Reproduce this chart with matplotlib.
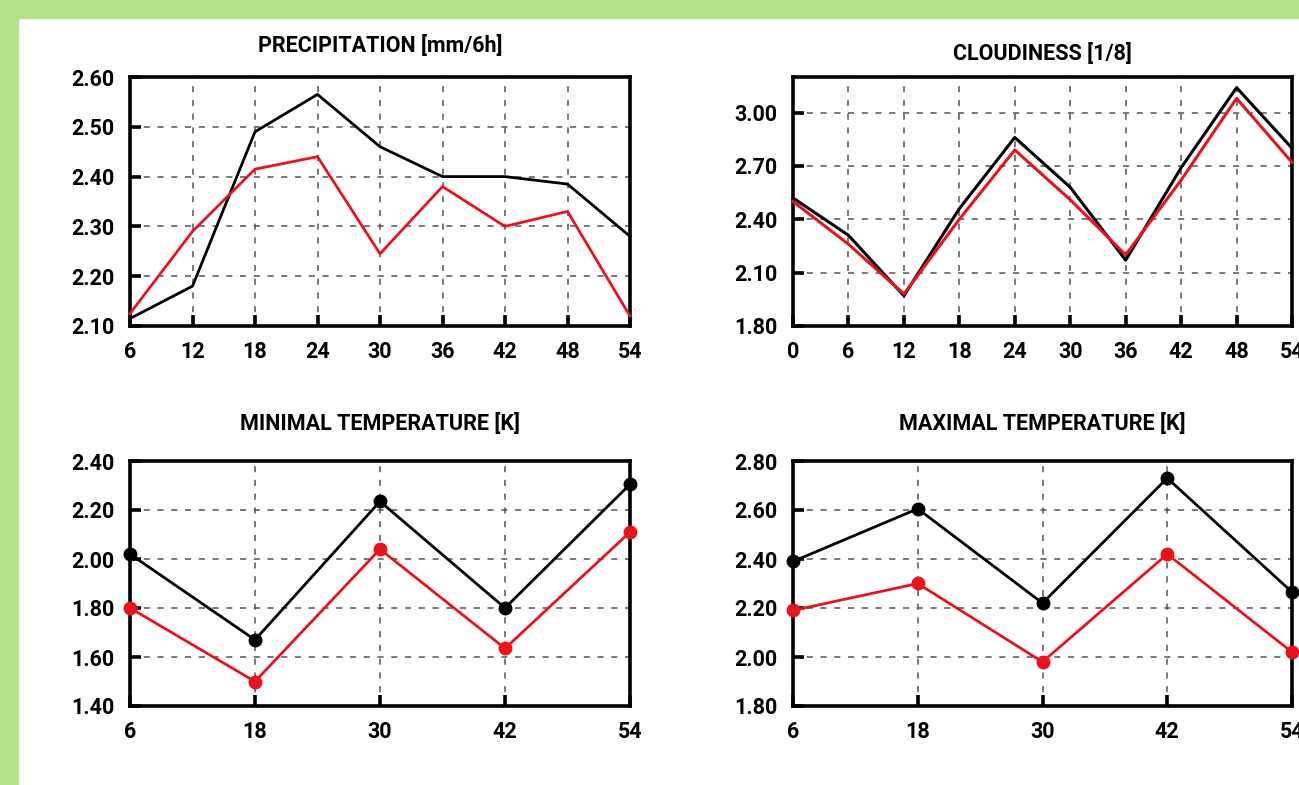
import matplotlib
matplotlib.use("Agg")
import matplotlib.pyplot as plt
from matplotlib.patches import Rectangle

plt.rcParams['font.family'] = ['Roboto', 'Liberation Sans', 'DejaVu Sans']

# ---- data ----
precip_x = [6, 12, 18, 24, 30, 36, 42, 48, 54]
precip_black = [2.115, 2.18, 2.49, 2.565, 2.46, 2.40, 2.40, 2.385, 2.28]
precip_red = [2.125, 2.29, 2.415, 2.44, 2.245, 2.38, 2.30, 2.33, 2.12]

cloud_x = [0, 6, 12, 18, 24, 30, 36, 42, 48, 54]
cloud_black = [2.52, 2.31, 1.97, 2.46, 2.86, 2.58, 2.17, 2.69, 3.14, 2.80]
cloud_red = [2.50, 2.26, 1.98, 2.40, 2.79, 2.51, 2.20, 2.62, 3.08, 2.72]

temp_x = [6, 18, 30, 42, 54]
tmin_black = [2.02, 1.67, 2.235, 1.80, 2.305]
tmin_red = [1.80, 1.50, 2.04, 1.635, 2.11]
tmax_black = [2.39, 2.605, 2.22, 2.73, 2.265]
tmax_red = [2.19, 2.30, 1.98, 2.42, 2.02]

precip_yticks = [2.10, 2.20, 2.30, 2.40, 2.50, 2.60]
cloud_yticks = [1.80, 2.10, 2.40, 2.70, 3.00]
tmin_yticks = [1.40, 1.60, 1.80, 2.00, 2.20, 2.40]
tmax_yticks = [1.80, 2.00, 2.20, 2.40, 2.60, 2.80]

W, H = 1299, 785
fig = plt.figure(figsize=(W / 100, H / 100), dpi=100)
fig.patch.set_facecolor('white')

GREEN = '#b2e28a'
fig.patches.append(Rectangle((0, 1 - 18 / H), 1, 18 / H, transform=fig.transFigure,
                             color=GREEN, zorder=0))
fig.patches.append(Rectangle((0, 0), 18 / W, 1, transform=fig.transFigure,
                             color=GREEN, zorder=0))


def make_ax(x0, x1, y0, y1):
    return fig.add_axes([x0 / W, 1 - y1 / H, (x1 - x0) / W, (y1 - y0) / H])


def style(ax, title, xs, yticks, ylim, xlim, title_pad):
    ax.set_xlim(*xlim)
    ax.set_ylim(*ylim)
    ax.set_xticks(xs)
    ax.set_xticklabels([str(v) for v in xs])
    ax.set_yticks(yticks)
    ax.set_yticklabels([f"{v:.2f}" for v in yticks])
    for s in ax.spines.values():
        s.set_linewidth(2.6)
    ax.tick_params(direction='in', length=8, width=2.6, labelsize=15.5)
    ax.tick_params(axis='x', pad=11)
    ax.tick_params(axis='y', pad=11)
    for lab in ax.get_xticklabels() + ax.get_yticklabels():
        lab.set_fontweight('bold')
    ax.grid(True, linestyle=(0, (4, 5)), color='#555555', linewidth=1.1)
    ax.set_axisbelow(True)
    ax.set_title(title, fontsize=15.5, fontweight='bold', pad=title_pad)


RED = '#e8131b'

# top-left
ax1 = make_ax(130, 630, 77, 326)
ax1.plot(precip_x, precip_black, color='black', lw=2, clip_on=False, zorder=3)
ax1.plot(precip_x, precip_red, color=RED, lw=2, clip_on=False, zorder=4)
style(ax1, 'PRECIPITATION [mm/6h]', precip_x, precip_yticks, (2.10, 2.60), (6, 54), 18)

# top-right
ax2 = make_ax(793, 1292, 77, 326)
ax2.plot(cloud_x, cloud_black, color='black', lw=2.2, clip_on=False, zorder=3)
ax2.plot(cloud_x, cloud_red, color=RED, lw=2.2, clip_on=False, zorder=4)
style(ax2, 'CLOUDINESS [1/8]', cloud_x, cloud_yticks, (1.80, 3.20), (0, 54), 12)

# bottom-left
ax3 = make_ax(130, 630, 461, 706)
ax3.plot(temp_x, tmin_black, color='black', lw=2, marker='o', ms=9, clip_on=False, zorder=3)
ax3.plot(temp_x, tmin_red, color=RED, lw=2, marker='o', ms=9, clip_on=False, zorder=4)
style(ax3, 'MINIMAL TEMPERATURE [K]', temp_x, tmin_yticks, (1.40, 2.40), (6, 54), 22)

# bottom-right
ax4 = make_ax(793, 1292, 461, 706)
ax4.plot(temp_x, tmax_black, color='black', lw=2, marker='o', ms=9, clip_on=False, zorder=3)
ax4.plot(temp_x, tmax_red, color=RED, lw=2, marker='o', ms=9, clip_on=False, zorder=4)
style(ax4, 'MAXIMAL TEMPERATURE [K]', temp_x, tmax_yticks, (1.80, 2.80), (6, 54), 22)

fig.savefig('out.png', dpi=100)
